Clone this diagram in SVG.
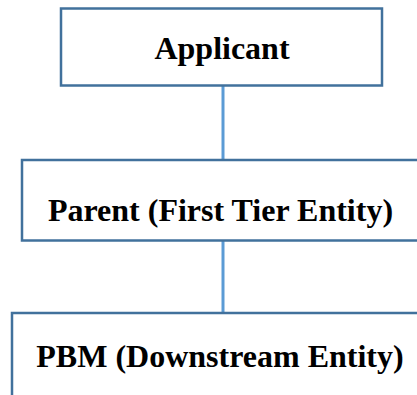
<svg xmlns="http://www.w3.org/2000/svg" width="417" height="395" viewBox="0 0 417 395">
<style>
.box{fill:#ffffff;stroke:#41719C;stroke-width:2.5}
.lbl{font-family:"Liberation Serif","Times New Roman",serif;font-weight:bold;font-size:32px;fill:#000;text-anchor:middle}
.conn{stroke:#5B9BD5;stroke-width:3;fill:none}
</style>
<rect width="417" height="395" fill="#ffffff"/>
<g id="connectors">
<line class="conn" x1="223" y1="86" x2="223" y2="159"/>
<line class="conn" x1="223" y1="241" x2="223" y2="312"/>
</g>
<g id="applicant">
<rect class="box" x="61" y="8.5" width="321" height="77"/>
<text class="lbl" x="222" y="59">Applicant</text>
</g>
<g id="parent">
<rect class="box" x="22" y="160" width="420" height="80.5"/>
<text class="lbl" x="220.5" y="221">Parent (First Tier Entity)</text>
</g>
<g id="pbm">
<rect class="box" x="12" y="313" width="430" height="120"/>
<text class="lbl" x="220" y="367">PBM (Downstream Entity)</text>
</g>
</svg>
